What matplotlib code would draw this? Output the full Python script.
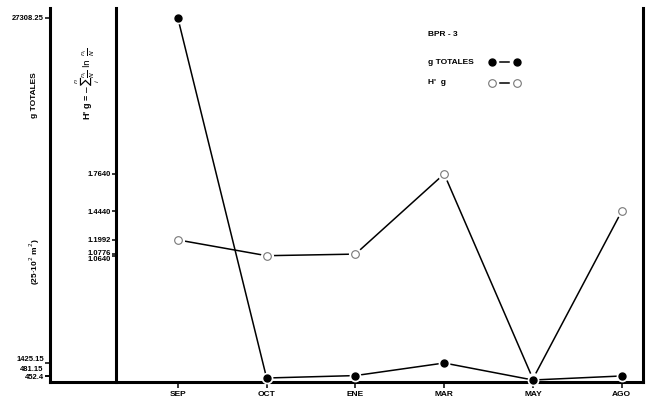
import matplotlib
matplotlib.use('Agg')
from matplotlib import pyplot as plt
from matplotlib import transforms


plt.rcParams['font.family'] = ['Liberation Sans', 'DejaVu Sans']

# Data

months = ['SEP', 'OCT', 'ENE', 'MAR', 'MAY', 'AGO']
g_totales = [27308.25, 300.0, 481.15, 1425.15, 150.0, 452.4]
h_prime = [1.1992, 1.0640, 1.0776, 1.7640, 0.01, 1.4440]

g_ticks = [27308.25, 1425.15, 481.15, 452.4]
g_ticklabels = ['27308.25', '1425.15', '481.15', '452.4']
h_ticks = [1.7640, 1.4440, 1.1992, 1.0776, 1.0640]
h_ticklabels = ['1.7640', '1.4440', '1.1992', '1.0776', '1.0640']

# label nudges (pixels, up positive) so crowded tick labels stay readable
g_nudge = [0, 5, 7, -1]
h_nudge = [0, 0, 0, 2, -3]

# Figure set-up

W, H = 651, 405
fig = plt.figure(figsize=(W / 100, H / 100), dpi=100)
x0, x1, ytop, ybot = 50, 643, 8, 382
ax = fig.add_axes([x0 / W, (H - ybot) / H, (x1 - x0) / W, (ybot - ytop) / H])
ax2 = ax.twinx()

x = list(range(len(months)))
ax.set_xlim(-1.44, 5.24)
ax.set_ylim(0, 28058)
ax2.set_ylim(-0.017, 3.184)

lw_spine = 2.2
for a in (ax, ax2):
    for s in a.spines.values():
        s.set_visible(False)
        s.set_linewidth(lw_spine)
ax.spines['left'].set_visible(True)
ax.spines['bottom'].set_visible(True)
ax.spines['right'].set_visible(True)
ax2.spines['left'].set_visible(True)
ax2.spines['left'].set_position(('axes', (116 - x0) / (x1 - x0)))
ax2.yaxis.set_ticks_position('left')

ax.set_xticks(x, months)
ax.set_yticks(g_ticks, g_ticklabels)
ax2.set_yticks(h_ticks, h_ticklabels)

fs = 6
ax.tick_params(axis='x', length=4.5, width=1.1, pad=2, labelsize=fs)
ax.tick_params(axis='y', length=3.5, width=1.1, pad=1, labelsize=5.5)
ax2.tick_params(axis='y', length=3, width=1.1, pad=1, labelsize=5.5)
for a in (ax, ax2):
    for lab in a.get_xticklabels() + a.get_yticklabels():
        lab.set_fontweight('bold')

for tick, dy in zip(ax.yaxis.get_major_ticks(), g_nudge):
    off = transforms.ScaledTranslation(0, dy / 100, fig.dpi_scale_trans)
    tick.label1.set_transform(tick.label1.get_transform() + off)
for tick, dy in zip(ax2.yaxis.get_major_ticks(), h_nudge):
    off = transforms.ScaledTranslation(0, dy / 100, fig.dpi_scale_trans)
    tick.label1.set_transform(tick.label1.get_transform() + off)

# Series

ax2.plot(x, h_prime, color='black', lw=1.1, zorder=2)
ax2.plot(x, h_prime, ls='none', marker='o', ms=8.5, mfc='white', mec='white', zorder=3, clip_on=False)
ax2.plot(x, h_prime, ls='none', marker='o', ms=5.5, mfc='white', mec='#777777', mew=0.8, zorder=4, clip_on=False)

ax.set_zorder(ax2.get_zorder() + 1)
ax.patch.set_visible(False)
ax.plot(x, g_totales, color='black', lw=1.1, zorder=2)
ax.plot(x, g_totales, ls='none', marker='o', ms=7.5, mfc='white', mec='white', zorder=3, clip_on=False)
ax.plot(x, g_totales, ls='none', marker='o', ms=5, color='black', zorder=4, clip_on=False)

# Axis titles

fig.text(35 / W, 1 - 95 / H, 'g TOTALES', rotation=90, ha='center', va='center', fontsize=fs, fontweight='bold')
fig.text(35 / W, 1 - 262 / H, '(25·10$^{2}$ m$^{2}$)', rotation=90, ha='center', va='center', fontsize=fs, fontweight='bold')
fig.text(88 / W, 1 - 84 / H, r"H' g = $-\sum_{i}^{n}\frac{n_i}{N}\ \ln\ \frac{n_i}{N}$", rotation=90,
         ha='center', va='center', fontsize=6.5, fontweight='bold')

# Key


def fx(px):
    return (px - x0) / (x1 - x0)


def fy(py):
    return (ybot - py) / (ybot - ytop)


ax.text(fx(428), fy(35), 'BPR - 3', transform=ax.transAxes, ha='left', va='center', fontsize=fs, fontweight='bold')
ax.text(fx(428), fy(62), 'g TOTALES', transform=ax.transAxes, ha='left', va='center', fontsize=fs, fontweight='bold')
ax.text(fx(428), fy(83), "H'  g", transform=ax.transAxes, ha='left', va='center', fontsize=fs, fontweight='bold')
ax.plot([fx(500), fx(509)], [fy(62)] * 2, color='black', lw=1.1, transform=ax.transAxes)
ax.plot([fx(500), fx(509)], [fy(83)] * 2, color='black', lw=1.1, transform=ax.transAxes)
ax.plot([fx(492), fx(517)], [fy(62)] * 2, ls='none', marker='o', ms=5, color='black', transform=ax.transAxes)
ax.plot([fx(492), fx(517)], [fy(83)] * 2, ls='none', marker='o', ms=5.5, mfc='white', mec='#777777',
        mew=0.8, transform=ax.transAxes)

fig.savefig('out.png', dpi=100)
